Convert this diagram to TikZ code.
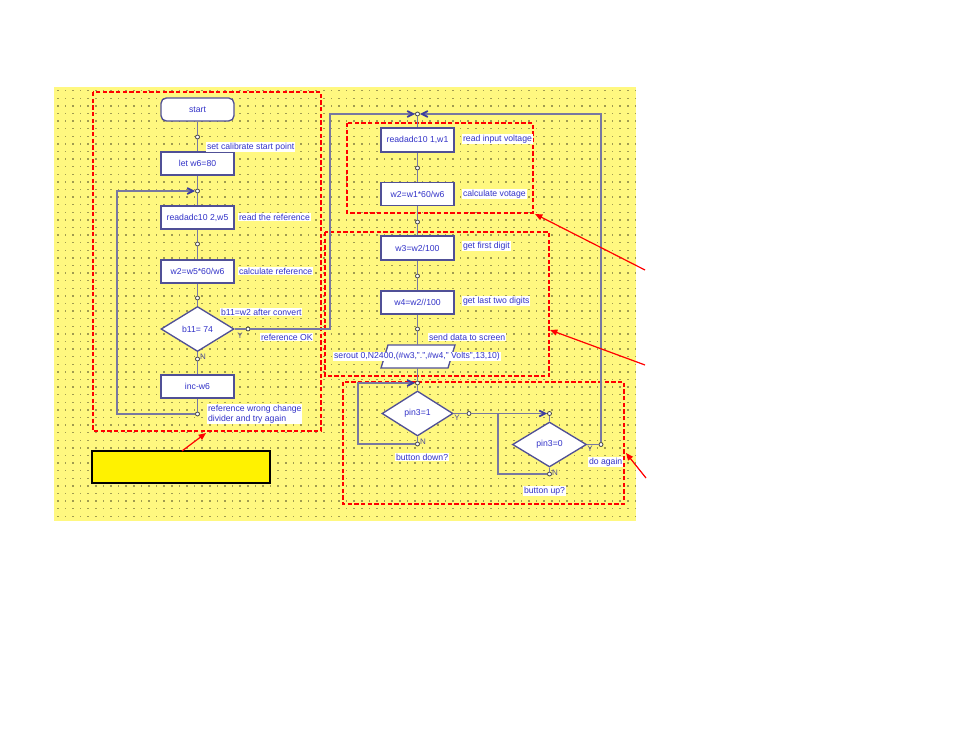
\documentclass[tikz,border=0pt]{standalone}
\usepackage{fontspec}
\setmainfont{Liberation Sans}
\usetikzlibrary{shapes.geometric,arrows.meta,calc}
\definecolor{bgyellow}{RGB}{255,248,128}
\definecolor{gdot}{RGB}{160,155,80}
\definecolor{txtblue}{RGB}{50,50,200}
\definecolor{boxcol}{RGB}{80,80,150}
\definecolor{conncol}{RGB}{120,120,160}
\definecolor{tipcol}{RGB}{60,60,160}
\definecolor{annred}{RGB}{255,0,0}
\begin{document}
\begin{tikzpicture}[x=0.75pt,y=-0.75pt,
 font=\fontsize{6.5}{7.5}\selectfont,
 fbox/.style={draw=boxcol,line width=1pt,fill=white,text=txtblue,minimum width=54.75pt,minimum height=17.25pt,inner sep=1pt},
 sbox/.style={fbox,rounded corners=4pt},
 dia/.style={diamond,draw=boxcol,line width=1pt,fill=white,text=txtblue,minimum width=54.75pt,minimum height=33.75pt,inner sep=0pt},
 lbl/.style={fill=white,text=txtblue,inner sep=0.6pt,anchor=west},
 yn/.style={text=boxcol,inner sep=0pt,font=\fontsize{6}{6}\selectfont},
 cdot/.style={circle,draw=black!75,fill=white,line width=0.6pt,minimum size=3pt,inner sep=0pt},
 conn/.style={draw=conncol,line width=1.3pt},
 jarrow/.style={conn,-{Straight Barb[length=4.5pt,width=4.5pt,color=tipcol]}},
 reddash/.style={draw=annred,dash pattern=on 3.2pt off 1.8pt,line width=0.8pt},
 redarrow/.style={draw=annred,line width=0.9pt,-{Triangle[length=5.5pt,width=4.5pt]}}
]
\useasboundingbox (0,0) rectangle (954,737);
\fill[white] (0,0) rectangle (954,737);
% background with dotted grid
\fill[bgyellow] (54,87) rectangle (636,521);
\foreach \i in {0,...,76}{
  \foreach \j in {0,...,56}{
    \fill[gdot] (57+\i*7.6,90+\j*7.6) rectangle ++(1.5,1.5);
  }
}
% red dashed groups
\draw[reddash] (93,92) rectangle (321,431);
\draw[reddash] (347,123) rectangle (533,213);
\draw[reddash] (325,232) rectangle (549,376);
\draw[reddash] (343,382) rectangle (624,504);

% ---------- left column ----------
\node[sbox] (start) at (197.5,109.5) {start};
\node[cdot] (d1) at (197.5,137) {};
\node[fbox] (letw6) at (197.5,163.5) {let w6=80};
\node[cdot] (j1) at (197.5,191) {};
\node[fbox] (read5) at (197.5,217.5) {readadc10 2,w5};
\node[cdot] (d3) at (197.5,244) {};
\node[fbox] (calc5) at (197.5,271.5) {w2=w5*60/w6};
\node[cdot] (d4) at (197.5,298) {};
\node[dia] (dia1) at (197.5,329) {b11= 74};
\node[cdot] (dN1) at (197.5,359) {};
\node[cdot] (dY1) at (248,329) {};
\node[fbox] (inc) at (197.5,386.5) {inc-w6};
\node[cdot] (d5) at (197.5,414) {};
\coordinate (lc1) at (117,414);
\coordinate (lc2) at (117,191);

\draw[conn] (start) -- (d1) -- (letw6);
\draw[conn] (letw6) -- (j1) -- (read5);
\draw[conn] (read5) -- (d3) -- (calc5);
\draw[conn] (calc5) -- (d4) -- (dia1);
\draw[conn] (dia1) -- (dN1) -- (inc);
\draw[conn] (inc) -- (d5);
\draw[jarrow] (d5) -- (lc1) -- (lc2) -- (j1);
\draw[conn] (dia1) -- (dY1);

\node[lbl] (l1) at (206,147) {set calibrate start point};
\node[lbl] (l2) at (238,217) {read the reference};
\node[lbl] (l3) at (238,271) {calculate reference};
\node[lbl] (l4) at (220,312) {b11=w2 after convert};
\node[lbl] (l5) at (260,337) {reference OK};
\node[lbl,align=left] (l6) at (207,414) {reference wrong change\\divider and try again};
\node[yn] (y1) at (240,336) {Y};
\node[yn] (n1) at (203,357) {N};

% ---------- right column ----------
\node[cdot] (J1) at (417.5,114) {};
\coordinate (rc1) at (330,329);
\coordinate (rc2) at (330,114);
\node[fbox,minimum height=18pt] (readw1) at (417.5,140) {readadc10 1,w1};
\node[cdot] (d6) at (417.5,168) {};
\node[fbox] (calcw1) at (417.5,194) {w2=w1*60/w6};
\node[cdot] (d7) at (417.5,222) {};
\node[fbox,minimum height=18pt] (w3b) at (417.5,248) {w3=w2/100};
\node[cdot] (d8) at (417.5,276) {};
\node[fbox] (w4b) at (417.5,302.5) {w4=w2//100};
\node[cdot] (d9) at (417.5,329) {};
\coordinate (iot) at (417.5,345);
\coordinate (iob) at (417.5,368);
\draw[draw=boxcol,line width=1pt,fill=white] (388,345) -- (455,345) -- (448,368) -- (381,368) -- cycle;
\node[fill=white,text=txtblue,inner sep=0.6pt] (io) at (417,356.5) {serout 0,N2400,(\#w3,".",\#w4," Volts",13,10)};
\node[cdot] (J2) at (417.5,383) {};
\node[dia,minimum width=53.25pt] (dia2) at (417.5,413.5) {pin3=1};
\node[cdot] (dN2) at (417.5,444) {};
\node[cdot] (dY2) at (469,413.5) {};
\node[cdot] (J3) at (549.5,413.5) {};
\node[dia,minimum width=55.5pt] (dia3) at (549.5,444.5) {pin3=0};
\node[cdot] (dN3) at (549.5,474) {};
\node[cdot] (dY3) at (601,444.5) {};
\coordinate (pc1) at (358,444);
\coordinate (pc2) at (358,383);
\coordinate (qc1) at (498,474);
\coordinate (qc2) at (498,413.5);
\coordinate (tc1) at (601,114);

\draw[jarrow] (dY1) -- (rc1) -- (rc2) -- (J1);
\draw[jarrow] (dY3) -- (tc1) -- (J1);
\draw[conn] (J1) -- (readw1);
\draw[conn] (readw1) -- (d6) -- (calcw1);
\draw[conn] (calcw1) -- (d7) -- (w3b);
\draw[conn] (w3b) -- (d8) -- (w4b);
\draw[conn] (w4b) -- (d9) -- (iot);
\draw[conn] (iob) -- (J2) -- (dia2);
\draw[conn] (dia2) -- (dN2);
\draw[jarrow] (dN2) -- (pc1) -- (pc2) -- (J2);
\draw[conn] (dia2) -- (dY2);
\draw[jarrow] (dY2) -- (J3);
\draw[conn] (J3) -- (dia3);
\draw[conn] (dia3) -- (dN3);
\draw[conn] (dN3) -- (qc1) -- (qc2);
\draw[conn] (dia3) -- (dY3);

\node[lbl] (r1) at (462,139) {read input voltage};
\node[lbl] (r2) at (462,194) {calculate votage};
\node[lbl] (r3) at (462,246) {get first digit};
\node[lbl] (r4) at (462,301) {get last two digits};
\node[lbl] (r5) at (428,337) {send data to screen};
\node[lbl] (r6) at (395,457) {button down?};
\node[lbl] (r7) at (588,462) {do again};
\node[lbl] (r8) at (523,491) {button up?};
\node[yn] (y2) at (457,418) {Y};
\node[yn] (n2) at (423,442) {N};
\node[yn] (y3) at (590,449) {Y};
\node[yn] (n3) at (555,473) {N};

% ---------- annotations ----------
\node[draw=black,line width=0.8pt,fill=yellow,minimum width=133.5pt,minimum height=24pt,inner sep=0pt] (note) at (181,467) {};
\coordinate (na) at (182,451);
\coordinate (nt) at (206,433);
\draw[redarrow] (na) -- (nt);
\coordinate (a1s) at (645,270);
\coordinate (a1t) at (535,214);
\coordinate (a2s) at (645,365);
\coordinate (a2t) at (550,330);
\coordinate (a3s) at (646,478);
\coordinate (a3t) at (626,453);
\draw[redarrow] (a1s) -- (a1t);
\draw[redarrow] (a2s) -- (a2t);
\draw[redarrow] (a3s) -- (a3t);
\end{tikzpicture}
\end{document}
